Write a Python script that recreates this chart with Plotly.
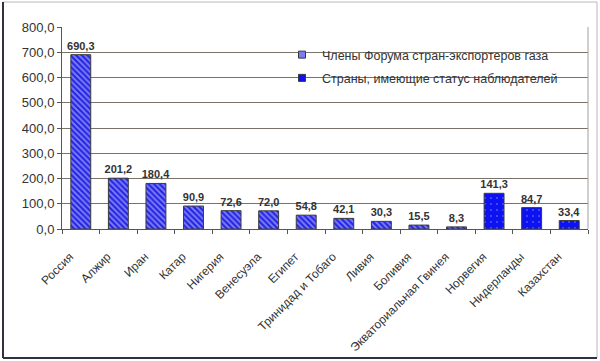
import plotly.graph_objects as go

members = ["Россия", "Алжир", "Иран", "Катар", "Нигерия", "Венесуэла", "Египет",
           "Тринидад и Тобаго", "Ливия", "Боливия", "Экваториальная Гвинея"]
members_values = [690.3, 201.2, 180.4, 90.9, 72.6, 72.0, 54.8, 42.1, 30.3, 15.5, 8.3]
observers = ["Норвегия", "Нидерланды", "Казахстан"]
observers_values = [141.3, 84.7, 33.4]
series_names = ["Члены Форума стран-экспортеров газа", "Страны, имеющие статус наблюдателей"]
y_ticks = [0, 100, 200, 300, 400, 500, 600, 700, 800]

font = "Liberation Sans, Arial, sans-serif"
c1 = "#2828e6"
c2 = "#0c12f2"

fig = go.Figure()
fig.add_trace(go.Bar(
    x=members, y=members_values, name=series_names[0], showlegend=False,
    marker=dict(color=c1, line=dict(color="#3a3a3a", width=1),
                pattern=dict(shape="\\", fgcolor="#e0e4ff", bgcolor=c1, size=4, solidity=0.4)),
    texttemplate="<b>%{y:.1f}</b>", textposition="outside", constraintext="none",
    textfont=dict(size=11, color="#333333", family=font), cliponaxis=False,
))
fig.add_trace(go.Bar(
    x=observers, y=observers_values, name=series_names[1], showlegend=False,
    marker=dict(color=c2, line=dict(color="#3a3a3a", width=1),
                pattern=dict(shape=".", fgcolor="#9aa0ff", bgcolor=c2, size=6, solidity=0.08)),
    texttemplate="<b>%{y:.1f}</b>", textposition="outside", constraintext="none",
    textfont=dict(size=11, color="#333333", family=font), cliponaxis=False,
))
fig.add_trace(go.Scatter(x=[None], y=[None], mode="markers", name=series_names[0], legendgroup="a",
                         marker=dict(symbol="square", size=7, color="#7a7cf0",
                                     line=dict(color="#3a3a3a", width=1))))
fig.add_trace(go.Scatter(x=[None], y=[None], mode="markers", name=series_names[1], legendgroup="b",
                         marker=dict(symbol="square", size=7, color=c2,
                                     line=dict(color="#3a3a3a", width=1))))

pl, pr, pt, pb = 62, 588, 27, 229
pw, ph = pr - pl, pb - pt

def px(x):
    return (x - pl) / pw

def py(y):
    return (pb - y) / ph

shapes = [
    dict(type="rect", xref="paper", yref="paper", x0=px(283), x1=px(580), y0=py(100), y1=py(27.5),
         fillcolor="white", line=dict(width=0), layer="between"),
    dict(type="rect", xref="paper", yref="paper", x0=px(3), x1=px(597), y0=py(358), y1=py(2),
         fillcolor="rgba(0,0,0,0)", line=dict(color="#b8b8c0", width=1), layer="above"),
    dict(type="line", xref="paper", yref="paper", x0=px(3), x1=px(3), y0=py(358), y1=py(2),
         line=dict(color="#303040", width=2), layer="above"),
    dict(type="line", xref="paper", yref="paper", x0=px(3), x1=px(597), y0=py(358), y1=py(358),
         line=dict(color="#303040", width=2), layer="above"),
    dict(type="line", xref="paper", yref="paper", x0=1, x1=1, y0=0, y1=1,
         line=dict(color="#a0a0a0", width=1)),
]

fig.update_layout(
    width=600, height=361,
    margin=dict(l=pl, r=600 - pr, t=pt, b=361 - pb, autoexpand=False),
    paper_bgcolor="white", plot_bgcolor="white",
    barmode="relative", bargap=0.47,
    separators=", ",
    font=dict(family=font, color="#333333"),
    showlegend=True,
    legend=dict(x=px(282), y=py(40), xanchor="left", yanchor="top",
                bgcolor="rgba(0,0,0,0)", font=dict(size=12.5, color="#333333", family=font),
                itemwidth=30, tracegroupgap=4),
    shapes=shapes,
    xaxis=dict(
        categoryorder="array", categoryarray=members + observers,
        tickangle=-45, tickson="boundaries", ticks="outside", ticklen=4,
        tickcolor="#555555", showline=True, linecolor="#555555", linewidth=1,
        showgrid=False, tickfont=dict(size=12, color="#333333", family=font),
        automargin=False, ticklabelstandoff=15, ticklabelshift=-11,
    ),
    yaxis=dict(
        range=[0, 800], tickvals=y_ticks, tickformat=".1f",
        ticks="outside", ticklen=4, tickcolor="#555555",
        showline=True, linecolor="#555555", linewidth=1,
        showgrid=True, gridcolor="#7a7268", gridwidth=1,
        tickfont=dict(size=13, color="#333333", family=font),
        zeroline=False, automargin=False,
    ),
)

fig.write_html("out.html", config={"displayModeBar": False},
               post_script="document.body.style.margin='0px';document.body.style.overflow='hidden';")
